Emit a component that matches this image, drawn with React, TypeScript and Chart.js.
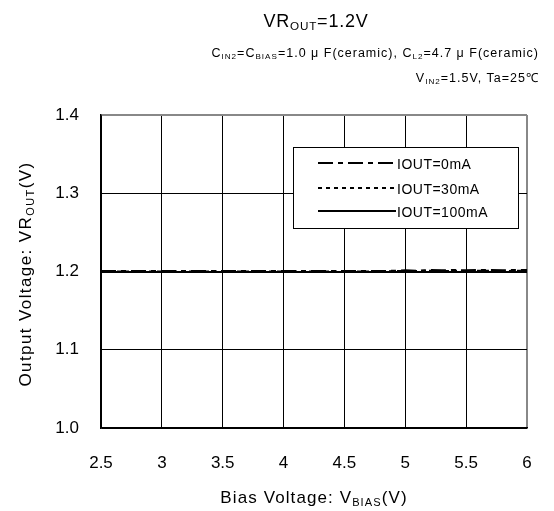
import React, { useEffect, useRef } from "react";
import { Chart, registerables } from "chart.js";

Chart.register(...registerables);

const biasV = [2.5, 2.6, 2.7, 2.8, 2.9, 3.0, 3.1, 3.2, 3.3, 3.4, 3.5, 3.6, 3.7, 3.8, 3.9, 4.0, 4.1, 4.2, 4.3, 4.4, 4.5, 4.6, 4.7, 4.8, 4.9, 5.0, 5.1, 5.2, 5.3, 5.4, 5.5, 5.6, 5.7, 5.8, 5.9, 6.0];
const iout0 = [1.2005, 1.2005, 1.2005, 1.2005, 1.2005, 1.2005, 1.2005, 1.2005, 1.2005, 1.2005, 1.2005, 1.2005, 1.2005, 1.2005, 1.2005, 1.2005, 1.2005, 1.2005, 1.2005, 1.2005, 1.2005, 1.2005, 1.2005, 1.2005, 1.201, 1.2015, 1.201, 1.202, 1.2015, 1.202, 1.2015, 1.202, 1.202, 1.2015, 1.202, 1.202];
const iout30 = [1.2, 1.2, 1.2, 1.2, 1.2, 1.2, 1.2, 1.2, 1.2, 1.2, 1.2, 1.2, 1.2, 1.2, 1.2, 1.2, 1.2, 1.2, 1.2, 1.2, 1.2, 1.2, 1.2, 1.2, 1.2005, 1.2005, 1.2005, 1.201, 1.2005, 1.201, 1.2005, 1.201, 1.201, 1.2005, 1.201, 1.201];
const iout100 = [1.1995, 1.1995, 1.1995, 1.1995, 1.1995, 1.1995, 1.1995, 1.1995, 1.1995, 1.1995, 1.1995, 1.1995, 1.1995, 1.1995, 1.1995, 1.1995, 1.1995, 1.1995, 1.1995, 1.1995, 1.1995, 1.1995, 1.1995, 1.1995, 1.1995, 1.1995, 1.1995, 1.1995, 1.1995, 1.1995, 1.1995, 1.1995, 1.1995, 1.1995, 1.1995, 1.1995];
const seriesLabels = ["IOUT=0mA", "IOUT=30mA", "IOUT=100mA"];
const seriesDash = [[15, 5, 5, 5], [4, 4], []];
const seriesWidth = [2, 2, 2];

const FONT = "'Liberation Sans', Arial, sans-serif";

type Part = { t: string; sub?: boolean };

function richWidth(ctx: CanvasRenderingContext2D, parts: Part[], size: number) {
  let w = 0;
  for (const p of parts) {
    ctx.font = `${p.sub ? size * 0.65 : size}px ${FONT}`;
    w += ctx.measureText(p.t).width;
  }
  return w;
}

function drawRich(ctx: CanvasRenderingContext2D, parts: Part[], x: number, y: number, size: number, align: "left" | "center" | "right", spacing: number) {
  ctx.save();
  (ctx as any).letterSpacing = `${spacing}px`;
  const w = richWidth(ctx, parts, size);
  let cx = align === "left" ? x : align === "center" ? x - w / 2 : x - w;
  ctx.textAlign = "left";
  ctx.textBaseline = "alphabetic";
  ctx.fillStyle = "#000";
  for (const p of parts) {
    const s = p.sub ? size * 0.65 : size;
    ctx.font = `${s}px ${FONT}`;
    ctx.fillText(p.t, cx, p.sub ? y + size * 0.15 : y);
    cx += ctx.measureText(p.t).width;
  }
  ctx.restore();
}

const textPlugin = {
  id: "texts",
  afterDraw(chart: any) {
    const ctx: CanvasRenderingContext2D = chart.ctx;
    const a = chart.chartArea;
    ctx.save();
    drawRich(ctx, [{ t: "VR" }, { t: "OUT", sub: true }, { t: "=1.2V" }], 316, 27, 18, "center", 0.8);
    drawRich(ctx, [{ t: "C" }, { t: "IN2", sub: true }, { t: "=C" }, { t: "BIAS", sub: true }, { t: "=1.0 μ F(ceramic), C" }, { t: "L2", sub: true }, { t: "=4.7 μ F(ceramic)" }], 539, 57, 12.5, "right", 1);
    drawRich(ctx, [{ t: "V" }, { t: "IN2", sub: true }, { t: "=1.5V, Ta=25℃" }], 539, 82, 12.5, "right", 1);
    drawRich(ctx, [{ t: "Bias Voltage: V" }, { t: "BIAS", sub: true }, { t: "(V)" }], (a.left + a.right) / 2, 503, 17, "center", 1.1);
    ctx.save();
    ctx.translate(31, 274);
    ctx.rotate(-Math.PI / 2);
    drawRich(ctx, [{ t: "Output Voltage: VR" }, { t: "OUT", sub: true }, { t: "(V)" }], 0, 0, 17, "center", 1.4);
    ctx.restore();
    // legend
    const lx = 293, ly = 147, lw = 225, lh = 81;
    ctx.fillStyle = "#fff";
    ctx.fillRect(lx, ly, lw, lh);
    ctx.strokeStyle = "#000";
    ctx.lineWidth = 1;
    ctx.strokeRect(lx + 0.5, ly + 0.5, lw, lh);
    const rows = [163, 188, 211];
    for (let i = 0; i < seriesLabels.length; i++) {
      ctx.beginPath();
      ctx.setLineDash(seriesDash[i]);
      ctx.lineWidth = seriesWidth[i];
      ctx.moveTo(318, rows[i]);
      ctx.lineTo(396, rows[i]);
      ctx.stroke();
      ctx.setLineDash([]);
      drawRich(ctx, [{ t: seriesLabels[i] }], 397, rows[i] + 6, 14, "left", 0.5);
    }
    ctx.restore();
  },
};

export default function App() {
  const ref = useRef<HTMLCanvasElement>(null);
  useEffect(() => {
    if (!ref.current) return;
    const mk = (d: number[]) => biasV.map((x, i) => ({ x, y: d[i] }));
    const all = [iout0, iout30, iout100];
    const chart = new Chart(ref.current, {
      type: "line",
      data: {
        datasets: all.map((d, i) => ({
          label: seriesLabels[i],
          data: mk(d),
          borderColor: "#000",
          borderWidth: seriesWidth[i],
          borderDash: seriesDash[i],
          pointRadius: 0,
          fill: false,
          tension: 0,
        })),
      },
      options: {
        animation: false,
        responsive: false,
        maintainAspectRatio: false,
        layout: { padding: { left: 0, top: 115, right: 27, bottom: 0 } },
        plugins: { legend: { display: false }, tooltip: { enabled: false }, title: { display: false } },
        scales: {
          x: {
            type: "linear",
            min: 2.5,
            max: 6,
            afterFit: (s: any) => { s.height = 83; s.paddingRight = 0; s.paddingLeft = 0; },
            ticks: { stepSize: 0.5, color: "#000", font: { size: 17, family: FONT }, padding: 25, callback: (v: any) => String(v) },
            grid: {
              color: (c: any) => (c.tick && c.tick.value === 6 ? "#888" : "#000"),
              lineWidth: (c: any) => (c.tick && c.tick.value === 6 ? 2 : 1),
              drawTicks: false,
            },
            border: { color: "#000", width: 1.5 },
          },
          y: {
            min: 1.0,
            max: 1.4,
            afterFit: (s: any) => { s.width = 101; s.paddingTop = 0; s.paddingBottom = 0; },
            ticks: { stepSize: 0.1, color: "#000", font: { size: 17, family: FONT }, padding: 22, callback: (v: any) => Number(v).toFixed(1) },
            grid: {
              color: (c: any) => (c.tick && Math.abs(c.tick.value - 1.4) < 1e-6 ? "#888" : "#000"),
              lineWidth: (c: any) => (c.tick && Math.abs(c.tick.value - 1.4) < 1e-6 ? 2 : 1),
              drawTicks: false,
            },
            border: { color: "#000", width: 1.5 },
          },
        },
      },
      plugins: [textPlugin],
    } as any);
    return () => chart.destroy();
  }, []);
  return (
    <div style={{ position: "fixed", left: 0, top: 0, width: 554, height: 511, background: "#fff" }}>
      <canvas ref={ref} width={554} height={511} style={{ width: 554, height: 511, display: "block" }} />
    </div>
  );
}
